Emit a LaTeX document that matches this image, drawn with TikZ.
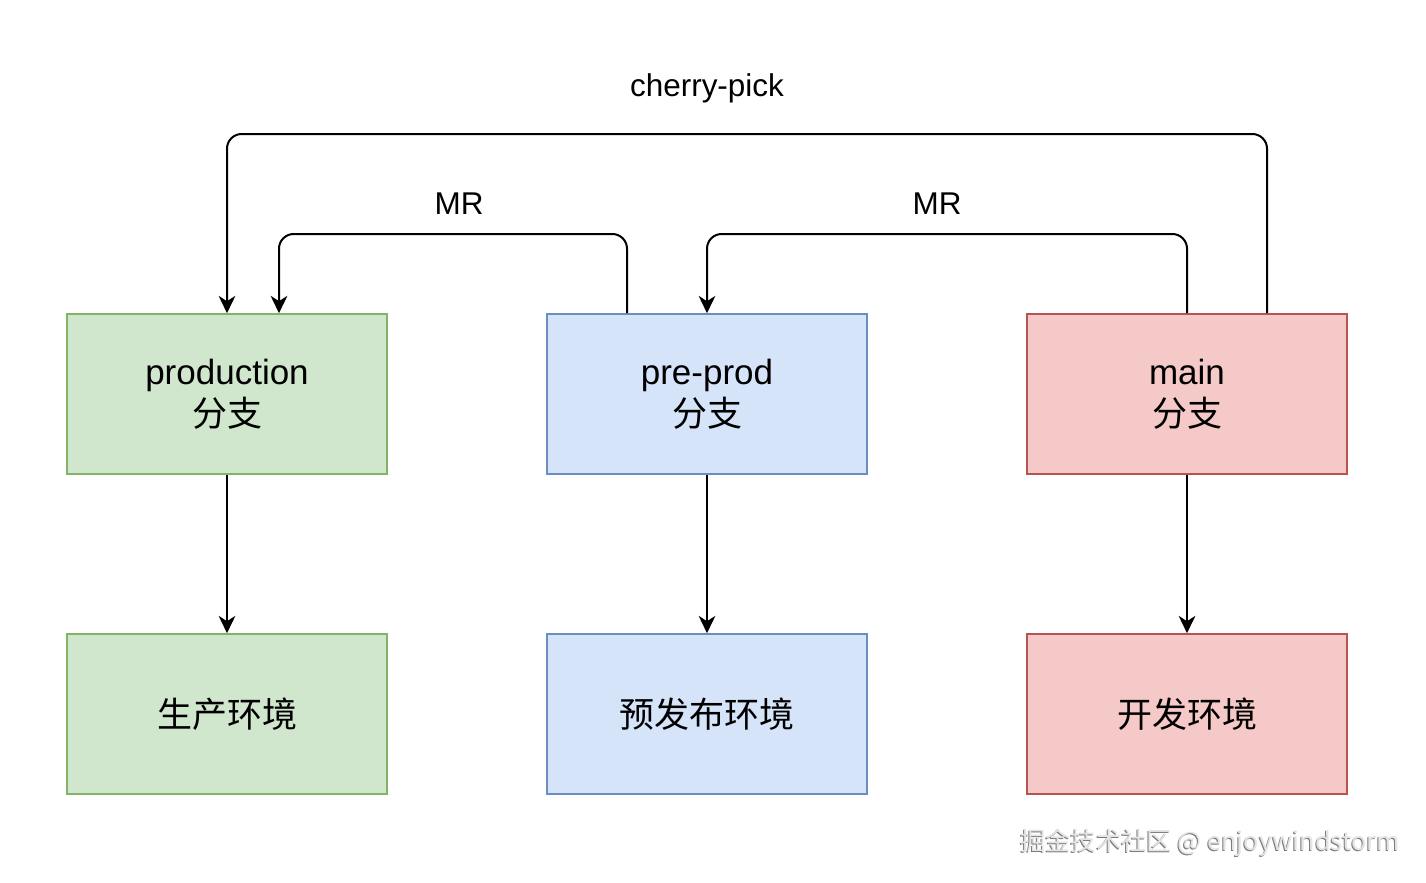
\documentclass[tikz,border=0pt]{standalone}
\usepackage{fontspec}
\setmainfont{Liberation Sans}
\newfontfamily\cjk{Noto Sans CJK SC}
\usetikzlibrary{arrows.meta}
\definecolor{gfill}{HTML}{D0E6CD}
\definecolor{gline}{HTML}{82B366}
\definecolor{bfill}{HTML}{D6E4FA}
\definecolor{bline}{HTML}{6C8EBF}
\definecolor{rfill}{HTML}{F5C9C7}
\definecolor{rline}{HTML}{B85450}
\definecolor{wmdark}{HTML}{7A7A7A}
\definecolor{wmlight}{HTML}{E4E4E4}
\tikzset{
  box/.style={rectangle, minimum width=240pt, minimum height=120pt, line width=1.2pt,
    align=center, inner sep=0pt, font=\fontsize{26.25}{31.5}\selectfont},
  gbox/.style={box, draw=gline, fill=gfill},
  bbox/.style={box, draw=bline, fill=bfill},
  rbox/.style={box, draw=rline, fill=rfill},
  arr/.style={line width=1.5pt, rounded corners=11pt, -{Stealth[length=13pt,width=12.5pt,inset=4pt]}},
  lbl/.style={font=\fontsize{23.6}{28}\selectfont, inner sep=0pt},
  wm/.style={font=\cjk\fontsize{19}{22}\selectfont, inner sep=0pt}
}
\begin{document}
\begin{tikzpicture}[x=0.75pt,y=-0.75pt]
\useasboundingbox (0,0) rectangle (1426,882);
\fill[white] (0,0) rectangle (1426,882);

\node[gbox] (prod) at (227,394) {production\\{\cjk 分支}};
\node[bbox] (pre) at (707,394) {pre-prod\\{\cjk 分支}};
\node[rbox] (main) at (1187,394) {main\\{\cjk 分支}};

\node[gbox] (prodenv) at (227,714) {\cjk 生产环境};
\node[bbox] (preenv) at (707,714) {\cjk 预发布环境};
\node[rbox] (devenv) at (1187,714) {\cjk 开发环境};

\draw[arr] (prod.south) -- (prodenv.north);
\draw[arr] (pre.south) -- (preenv.north);
\draw[arr] (main.south) -- (devenv.north);

\coordinate (cptop) at (707,134);
\coordinate (mronetop) at (459,234);
\coordinate (mrtwotop) at (947,234);

\draw[arr] ([xshift=60pt]main.north) |- (cptop) -| (prod.north);
\draw[arr] ([xshift=-60pt]pre.north) |- (mronetop) -| ([xshift=39pt]prod.north);
\draw[arr] (main.north) |- (mrtwotop) -| (pre.north);

\node[lbl] (cplabel) at (707,88) {cherry-pick};
\node[lbl] (mronelabel) at (459,204) {MR};
\node[lbl] (mrtwolabel) at (937,204) {MR};

\node[wm, text=wmdark] (wmshadow) at (1209,844) {掘金技术社区 @ enjoywindstorm};
\node[wm, text=wmlight] (wmtext) at (1210,843) {掘金技术社区 @ enjoywindstorm};
\end{tikzpicture}
\end{document}
